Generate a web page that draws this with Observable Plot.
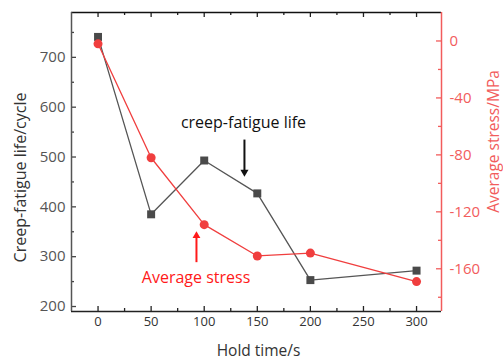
<!DOCTYPE html>
<html>
<head>
<meta charset="utf-8">
<script src="https://cdn.jsdelivr.net/npm/d3@7"></script>
<script src="https://cdn.jsdelivr.net/npm/@observablehq/plot@0.6"></script>
<style>
  html, body { margin: 0; padding: 0; background: #fff; }
  #chart svg { display: block; }
</style>
</head>
<body>
<div id="chart"></div>
<script>
// Creep-fatigue life and average stress against hold time
const holdTime = [0, 50, 100, 150, 200, 300];
const fatigueLife = [741, 385, 493, 427, 253, 272];   // cycles
const avgStress = [-2, -82, -129, -151, -149, -169];  // MPa

const xTicks = [0, 50, 100, 150, 200, 250, 300];
const xMinorTicks = [25, 75, 125, 175, 225, 275];
const lifeTicks = [200, 300, 400, 500, 600, 700];
const lifeMinorTicks = [250, 350, 450, 550, 650, 750];
const stressTicks = [-160, -120, -80, -40, 0];
const stressMinorTicks = [-180, -140, -100, -60, -20];

const xDomain = [-25, 323.5];
const lifeDomain = [190, 790];
const stressDomain = [-190, 20];

// The stress axis on the right shares the plot's y scale through a linear map
const toLife = d3.scaleLinear().domain(stressDomain).range(lifeDomain);

const W = 503, H = 360;
const mL = 71, mR = 62, mT = 12, mB = 49;
const plotW = W - mL - mR, plotH = H - mT - mB;

const lifeData = holdTime.map((t, i) => ({t, v: fatigueLife[i]}));
const stressData = holdTime.map((t, i) => ({t, v: toLife(avgStress[i])}));

const grey = "#4a4a4a";
const axisRed = "#f25c5c";
const dataRed = "#f03e3e";
const noteRed = "#ff1a1a";

const chart = Plot.plot({
  width: W,
  height: H,
  marginLeft: mL,
  marginRight: mR,
  marginTop: mT,
  marginBottom: mB,
  style: {fontFamily: "'Open Sans', sans-serif", background: "#fff", overflow: "visible"},
  x: {domain: xDomain, axis: null},
  y: {domain: lifeDomain, axis: null},
  marks: [
    // inward tick marks
    Plot.tickX(xTicks, {x: d => d, insetTop: plotH - 5, stroke: "#222", strokeWidth: 1.3}),
    Plot.tickX(xMinorTicks, {x: d => d, insetTop: plotH - 3, stroke: "#222", strokeWidth: 1.3}),
    Plot.tickX(xTicks, {x: d => d, insetBottom: plotH - 5, stroke: "#222", strokeWidth: 1.3}),
    Plot.tickX(xMinorTicks, {x: d => d, insetBottom: plotH - 3, stroke: "#222", strokeWidth: 1.3}),
    Plot.tickY(lifeTicks, {y: d => d, insetRight: plotW - 5, stroke: "#444", strokeWidth: 1.3}),
    Plot.tickY(lifeMinorTicks, {y: d => d, insetRight: plotW - 3, stroke: "#444", strokeWidth: 1.3}),
    Plot.tickY(stressTicks.map(toLife), {y: d => d, insetLeft: plotW - 5, stroke: axisRed, strokeWidth: 1.3}),
    Plot.tickY(stressMinorTicks.map(toLife), {y: d => d, insetLeft: plotW - 3, stroke: axisRed, strokeWidth: 1.3}),

    // frame lines
    Plot.ruleY([lifeDomain[1]], {stroke: "#111", strokeWidth: 1.5}),
    Plot.ruleY([lifeDomain[0]], {stroke: "#222", strokeWidth: 1.5}),
    Plot.ruleX([xDomain[0]], {stroke: "#555", strokeWidth: 1.5}),
    Plot.ruleX([xDomain[1]], {stroke: axisRed, strokeWidth: 1.5}),

    // tick labels
    Plot.axisX({anchor: "bottom", ticks: xTicks, tickSize: 0, tickPadding: 5, fontSize: 13, fill: "#333", label: null}),
    Plot.axisY({anchor: "left", ticks: lifeTicks, tickSize: 0, tickPadding: 6, fontSize: 15, fill: "#555", label: null}),
    Plot.axisY({anchor: "right", ticks: stressTicks.map(toLife), tickFormat: d => `${Math.round(toLife.invert(d))}`,
      tickSize: 0, tickPadding: 8, fontSize: 15, fill: axisRed, label: null}),

    // axis titles
    Plot.text(["Hold time/s"], {text: d => d, frameAnchor: "bottom", textAnchor: "middle", lineAnchor: "middle",
      dx: 2, dy: 40, fontSize: 15.5, fill: "#333"}),
    Plot.text(["Creep-fatigue life/cycle"], {text: d => d, frameAnchor: "left", textAnchor: "middle", lineAnchor: "middle",
      rotate: -90, dx: -51, dy: 15.5, fontSize: 16, fill: "#333"}),
    Plot.text(["Average stress/MPa"], {text: d => d, frameAnchor: "right", textAnchor: "middle", lineAnchor: "middle",
      rotate: -90, dx: 53, dy: -20.5, fontSize: 15.5, fill: axisRed}),

    // creep-fatigue life series
    Plot.line(lifeData, {x: "t", y: "v", stroke: "#555", strokeWidth: 1.3}),
    Plot.dot(lifeData, {x: "t", y: "v", symbol: "square", r: 4.5, fill: grey}),

    // average stress series
    Plot.line(stressData, {x: "t", y: "v", stroke: dataRed, strokeWidth: 1.3}),
    Plot.dot(stressData, {x: "t", y: "v", r: 4.5, fill: dataRed}),

    // annotations
    Plot.text(["creep-fatigue life"], {text: d => d, x: 137, y: 568, fontSize: 16, fill: "#111"}),
    Plot.link([0], {x1: 137.9, y1: 535, x2: 137.9, y2: 472, stroke: "#111", strokeWidth: 2}),
    Plot.dot([0], {x: 137.9, y: 470, symbol: "triangle", rotate: 180, r: 3, fill: "#111"}),

    Plot.text(["Average stress"], {text: d => d, x: 92.3, y: 258, fontSize: 16, fill: noteRed}),
    Plot.link([0], {x1: 92.7, y1: 289, x2: 92.7, y2: 340, stroke: noteRed, strokeWidth: 2}),
    Plot.dot([0], {x: 92.7, y: 342, symbol: "triangle", r: 2.9, fill: noteRed})
  ]
});

document.getElementById("chart").appendChild(chart);
</script>
</body>
</html>
